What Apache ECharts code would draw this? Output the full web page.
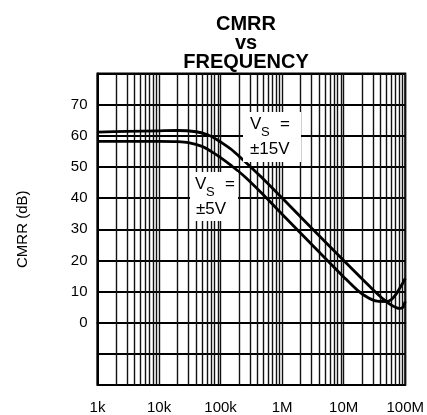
<!DOCTYPE html>
<html>
<head>
<meta charset="utf-8">
<script src="https://cdn.jsdelivr.net/npm/echarts@6/dist/echarts.min.js"></script>
<style>
html,body{margin:0;padding:0;background:#fff;}
#c{width:427px;height:415px;}
</style>
</head>
<body>
<div id="c"></div>
<script>
// ---- data ----
const xTickLabels = ['1k', '10k', '100k', '1M', '10M', '100M'];
const yTickLabels = [0, 10, 20, 30, 40, 50, 60, 70];

// Vs = ±15V
const freq15 = [1e3, 3e3, 1e4, 2e4, 4e4, 6e4, 8e4, 1e5, 1.5e5, 2e5, 3e5, 4.5e5, 1e6, 3e6, 1e7, 2e7, 3e7, 4.5e7, 6e7, 8e7, 9e7, 1e8];
const cmrr15 = [61.2, 61.4, 61.6, 61.7, 61.3, 60.4, 59.2, 58.0, 55.6, 53.4, 50.2, 46.9, 40.0, 30.4, 20.0, 14.0, 10.6, 7.4, 5.6, 4.6, 4.8, 6.8];

// Vs = ±5V
const freq5 = [1e3, 1e4, 2e4, 3e4, 5e4, 7e4, 1e5, 1.5e5, 2.5e5, 5e5, 1e6, 3e6, 1e7, 1.7e7, 2.5e7, 3.5e7, 5e7, 6e7, 7e7, 8e7, 9e7, 1e8];
const cmrr5 = [58.2, 58.2, 58.1, 57.8, 56.6, 55.0, 53.0, 50.4, 46.8, 41.0, 34.8, 25.2, 14.7, 10.3, 8.0, 6.9, 6.8, 7.5, 9.0, 10.8, 12.5, 14.2];

// minor vertical grid positions (2..9 of each decade)
const minorFreqs = [];
for (let d = 3; d < 8; d++) {
  for (let m = 2; m <= 9; m++) minorFreqs.push(m * Math.pow(10, d));
}

const FONT = 'Liberation Sans';
const chart = echarts.init(document.getElementById('c'), null, {renderer: 'canvas'});

const option = {
  animation: false,
  backgroundColor: '#fff',
  grid: {left: 97.5, right: 18, top: 73.5, bottom: 30, show: true, borderColor: '#000', borderWidth: 2, backgroundColor: 'transparent'},
  xAxis: {
    type: 'log', logBase: 10, min: 1e3, max: 1e8,
    axisLine: {show: true, lineStyle: {color: '#000', width: 2}},
    axisTick: {show: false},
    splitLine: {show: true, lineStyle: {color: '#111', width: 1.4}},
    axisLabel: {
      color: '#000', fontFamily: FONT, fontSize: 15, margin: 15,
      formatter: v => xTickLabels[Math.round(Math.log10(v)) - 3] || ''
    }
  },
  yAxis: {
    type: 'value', min: -20, max: 80, interval: 10,
    name: 'CMRR (dB)', nameLocation: 'middle', nameGap: 67,
    nameTextStyle: {color: '#000', fontFamily: FONT, fontSize: 15},
    axisLine: {show: true, lineStyle: {color: '#000', width: 2}},
    axisTick: {show: false},
    splitLine: {show: true, lineStyle: {color: '#000', width: 2}},
    axisLabel: {
      color: '#000', fontFamily: FONT, fontSize: 15, margin: 10,
      formatter: v => (yTickLabels.indexOf(v) >= 0 ? String(v) : '')
    }
  },
  series: [
    {
      type: 'line', data: freq15.map((f, i) => [f, cmrr15[i]]),
      smooth: 0.3, showSymbol: false, lineStyle: {color: '#000', width: 2.8}, z: 5,
      markLine: {
        silent: true, symbol: 'none', label: {show: false},
        lineStyle: {color: '#111', width: 1.4, type: 'solid'},
        data: minorFreqs.map(f => ({xAxis: f})), z: 1
      }
    },
    {
      type: 'line', data: freq5.map((f, i) => [f, cmrr5[i]]),
      smooth: 0.3, showSymbol: false, lineStyle: {color: '#000', width: 2.8}, z: 5
    }
  ],
  graphic: [
    {type: 'text', x: 246, y: 15, z: 100,
     style: {text: 'CMRR\nvs\nFREQUENCY', fill: '#000', font: 'bold 20px "Liberation Sans"', textAlign: 'center', lineHeight: 19}},
    // annotation ±15V
    {type: 'rect', shape: {x: 243, y: 112, width: 58, height: 50}, style: {fill: '#fff'}, z: 50},
    {type: 'text', x: 250, y: 116, z: 60, style: {text: 'V', fill: '#000', font: '17px "Liberation Sans"'}},
    {type: 'text', x: 261, y: 126, z: 60, style: {text: 'S', fill: '#000', font: '13px "Liberation Sans"'}},
    {type: 'text', x: 280, y: 116, z: 60, style: {text: '=', fill: '#000', font: '17px "Liberation Sans"'}},
    {type: 'text', x: 250, y: 141, z: 60, style: {text: '±15V', fill: '#000', font: '17px "Liberation Sans"'}},
    // annotation ±5V
    {type: 'rect', shape: {x: 190, y: 172, width: 48, height: 49}, style: {fill: '#fff'}, z: 50},
    {type: 'text', x: 195, y: 176, z: 60, style: {text: 'V', fill: '#000', font: '17px "Liberation Sans"'}},
    {type: 'text', x: 206, y: 186, z: 60, style: {text: 'S', fill: '#000', font: '13px "Liberation Sans"'}},
    {type: 'text', x: 225, y: 176, z: 60, style: {text: '=', fill: '#000', font: '17px "Liberation Sans"'}},
    {type: 'text', x: 196, y: 201, z: 60, style: {text: '±5V', fill: '#000', font: '17px "Liberation Sans"'}}
  ]
};
chart.setOption(option);
</script>
</body>
</html>
